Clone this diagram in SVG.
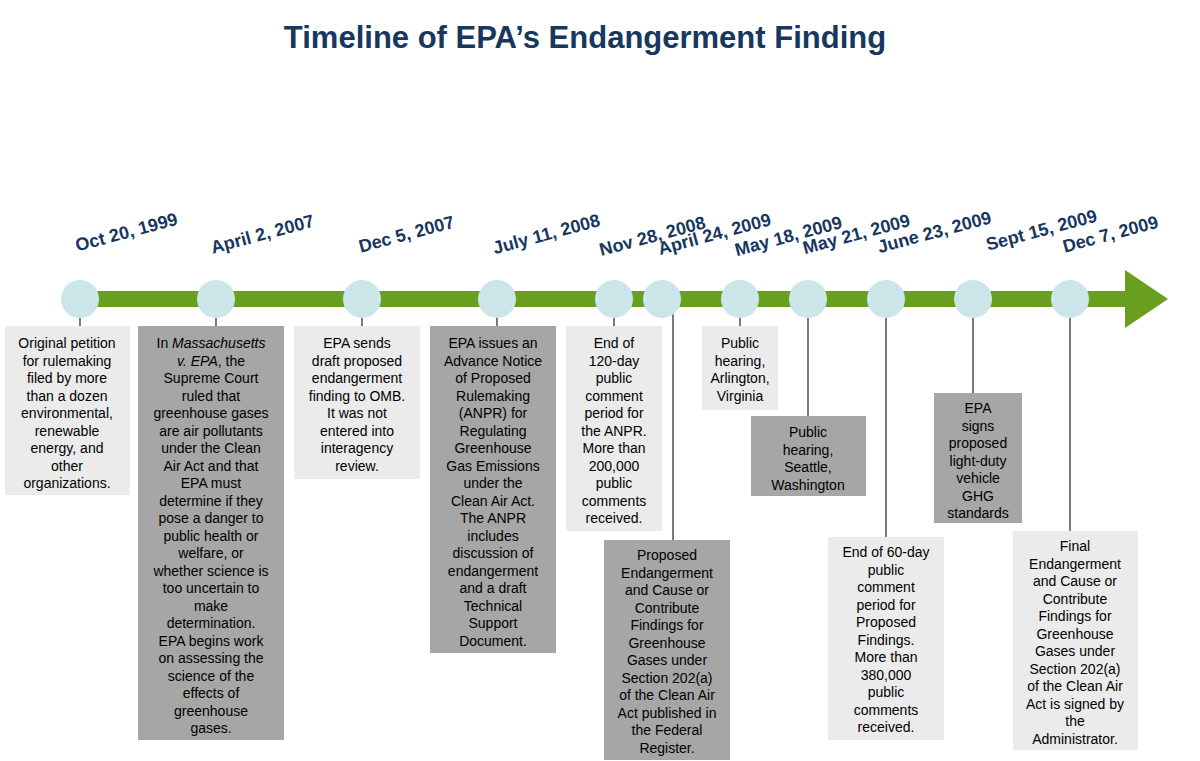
<svg xmlns="http://www.w3.org/2000/svg" width="1200" height="761" viewBox="0 0 1200 761">
<style>
.t{font-family:"Liberation Sans",Arial,sans-serif;font-size:14px;fill:#000;text-anchor:middle}
.d{font-family:"Liberation Sans",Arial,sans-serif;font-size:18px;font-weight:bold;fill:#17375E;text-anchor:middle}
.l{fill:#EBEBEB}.k{fill:#A6A6A6}
.c{fill:#CCE5E8}
.s{stroke:#222;stroke-width:1.2}
</style>
<rect width="1200" height="761" fill="#fff"/>
<text x="585" y="48" font-family="Liberation Sans,Arial,sans-serif" font-size="31" font-weight="bold" fill="#17375E" text-anchor="middle">Timeline of EPA’s Endangerment Finding</text>
<g id="connectors">
<path d="M80 291H1125V270L1168 299L1125 328V307H80Z" fill="#6A9E1F"/>
<line class="s" x1="80" y1="299" x2="80" y2="326"/>
<line class="s" x1="216" y1="299" x2="216" y2="326"/>
<line class="s" x1="362" y1="299" x2="362" y2="326"/>
<line class="s" x1="497" y1="299" x2="497" y2="326"/>
<line class="s" x1="614" y1="299" x2="614" y2="326"/>
<line class="s" x1="673" y1="299" x2="673" y2="540"/>
<line class="s" x1="740" y1="299" x2="740" y2="326"/>
<line class="s" x1="808" y1="299" x2="808" y2="416"/>
<line class="s" x1="886" y1="299" x2="886" y2="537"/>
<line class="s" x1="973" y1="299" x2="973" y2="393"/>
<line class="s" x1="1070" y1="299" x2="1070" y2="531"/>
</g>
<g id="n1"><circle class="c" cx="80" cy="299" r="19"/><text class="d" transform="translate(128,238) rotate(-15)">Oct 20, 1999</text>
<rect class="l" x="5" y="326" width="125" height="169"/>
<text class="t"><tspan x="67" y="348">Original petition</tspan><tspan x="67" dy="17.5">for rulemaking</tspan><tspan x="67" dy="17.5">filed by more</tspan><tspan x="67" dy="17.5">than a dozen</tspan><tspan x="67" dy="17.5">environmental,</tspan><tspan x="67" dy="17.5">renewable</tspan><tspan x="67" dy="17.5">energy, and</tspan><tspan x="67" dy="17.5">other</tspan><tspan x="67" dy="17.5">organizations.</tspan></text></g>
<g id="n2"><circle class="c" cx="216" cy="299" r="19"/><text class="d" transform="translate(264,240) rotate(-15)">April 2, 2007</text>
<rect class="k" x="138" y="326" width="146" height="414"/>
<text class="t"><tspan x="211" y="348">In <tspan font-style="italic">Massachusetts</tspan></tspan><tspan x="211" dy="17.5"><tspan font-style="italic">v. EPA</tspan>, the</tspan><tspan x="211" dy="17.5">Supreme Court</tspan><tspan x="211" dy="17.5">ruled that</tspan><tspan x="211" dy="17.5">greenhouse gases</tspan><tspan x="211" dy="17.5">are air pollutants</tspan><tspan x="211" dy="17.5">under the Clean</tspan><tspan x="211" dy="17.5">Air Act and that</tspan><tspan x="211" dy="17.5">EPA must</tspan><tspan x="211" dy="17.5">determine if they</tspan><tspan x="211" dy="17.5">pose a danger to</tspan><tspan x="211" dy="17.5">public health or</tspan><tspan x="211" dy="17.5">welfare, or</tspan><tspan x="211" dy="17.5">whether science is</tspan><tspan x="211" dy="17.5">too uncertain to</tspan><tspan x="211" dy="17.5">make</tspan><tspan x="211" dy="17.5">determination.</tspan><tspan x="211" dy="17.5">EPA begins work</tspan><tspan x="211" dy="17.5">on assessing the</tspan><tspan x="211" dy="17.5">science of the</tspan><tspan x="211" dy="17.5">effects of</tspan><tspan x="211" dy="17.5">greenhouse</tspan><tspan x="211" dy="17.5">gases.</tspan></text></g>
<g id="n3"><circle class="c" cx="362" cy="299" r="19"/><text class="d" transform="translate(408,240) rotate(-15)">Dec  5, 2007</text>
<rect class="l" x="294" y="326" width="126" height="153"/>
<text class="t"><tspan x="357" y="348">EPA sends</tspan><tspan x="357" dy="17.5">draft proposed</tspan><tspan x="357" dy="17.5">endangerment</tspan><tspan x="357" dy="17.5">finding to OMB.</tspan><tspan x="357" dy="17.5">It was not</tspan><tspan x="357" dy="17.5">entered into</tspan><tspan x="357" dy="17.5">interagency</tspan><tspan x="357" dy="17.5">review.</tspan></text></g>
<g id="n4"><circle class="c" cx="497" cy="299" r="19"/><text class="d" transform="translate(548,240) rotate(-15)">July 11, 2008</text>
<rect class="k" x="430" y="326" width="126" height="327"/>
<text class="t"><tspan x="493" y="348">EPA issues an</tspan><tspan x="493" dy="17.5">Advance Notice</tspan><tspan x="493" dy="17.5">of Proposed</tspan><tspan x="493" dy="17.5">Rulemaking</tspan><tspan x="493" dy="17.5">(ANPR) for</tspan><tspan x="493" dy="17.5">Regulating</tspan><tspan x="493" dy="17.5">Greenhouse</tspan><tspan x="493" dy="17.5">Gas Emissions</tspan><tspan x="493" dy="17.5">under the</tspan><tspan x="493" dy="17.5">Clean Air Act.</tspan><tspan x="493" dy="17.5">The ANPR</tspan><tspan x="493" dy="17.5">includes</tspan><tspan x="493" dy="17.5">discussion of</tspan><tspan x="493" dy="17.5">endangerment</tspan><tspan x="493" dy="17.5">and a draft</tspan><tspan x="493" dy="17.5">Technical</tspan><tspan x="493" dy="17.5">Support</tspan><tspan x="493" dy="17.5">Document.</tspan></text></g>
<g id="n5"><circle class="c" cx="614" cy="299" r="19"/><text class="d" transform="translate(654,242) rotate(-15)">Nov 28, 2008</text>
<rect class="l" x="566" y="326" width="96" height="205"/>
<text class="t"><tspan x="614" y="348">End of</tspan><tspan x="614" dy="17.5">120-day</tspan><tspan x="614" dy="17.5">public</tspan><tspan x="614" dy="17.5">comment</tspan><tspan x="614" dy="17.5">period for</tspan><tspan x="614" dy="17.5">the ANPR.</tspan><tspan x="614" dy="17.5">More than</tspan><tspan x="614" dy="17.5">200,000</tspan><tspan x="614" dy="17.5">public</tspan><tspan x="614" dy="17.5">comments</tspan><tspan x="614" dy="17.5">received.</tspan></text></g>
<g id="n6"><circle class="c" cx="662" cy="299" r="19"/><text class="d" transform="translate(716,240) rotate(-15)">April 24, 2009</text>
<rect class="k" x="604" y="540" width="126" height="220"/>
<text class="t"><tspan x="667" y="560">Proposed</tspan><tspan x="667" dy="17.5">Endangerment</tspan><tspan x="667" dy="17.5">and Cause or</tspan><tspan x="667" dy="17.5">Contribute</tspan><tspan x="667" dy="17.5">Findings for</tspan><tspan x="667" dy="17.5">Greenhouse</tspan><tspan x="667" dy="17.5">Gases under</tspan><tspan x="667" dy="17.5">Section 202(a)</tspan><tspan x="667" dy="17.5">of the Clean Air</tspan><tspan x="667" dy="17.5">Act published in</tspan><tspan x="667" dy="17.5">the Federal</tspan><tspan x="667" dy="17.5">Register.</tspan></text></g>
<g id="n7"><circle class="c" cx="740" cy="299" r="19"/><text class="d" transform="translate(790,242) rotate(-15)">May 18, 2009</text>
<rect class="l" x="702" y="326" width="76" height="84"/>
<text class="t"><tspan x="740" y="348">Public</tspan><tspan x="740" dy="17.5">hearing,</tspan><tspan x="740" dy="17.5">Arlington,</tspan><tspan x="740" dy="17.5">Virginia</tspan></text></g>
<g id="n8"><circle class="c" cx="808" cy="299" r="19"/><text class="d" transform="translate(858,240) rotate(-15)">May 21, 2009</text>
<rect class="k" x="751" y="416" width="115" height="80"/>
<text class="t"><tspan x="808" y="437">Public</tspan><tspan x="808" dy="17.5">hearing,</tspan><tspan x="808" dy="17.5">Seattle,</tspan><tspan x="808" dy="17.5">Washington</tspan></text></g>
<g id="n9"><circle class="c" cx="886" cy="299" r="19"/><text class="d" transform="translate(936,238) rotate(-15)">June 23, 2009</text>
<rect class="l" x="828" y="537" width="116" height="203"/>
<text class="t"><tspan x="886" y="557">End of 60-day</tspan><tspan x="886" dy="17.5">public</tspan><tspan x="886" dy="17.5">comment</tspan><tspan x="886" dy="17.5">period for</tspan><tspan x="886" dy="17.5">Proposed</tspan><tspan x="886" dy="17.5">Findings.</tspan><tspan x="886" dy="17.5">More than</tspan><tspan x="886" dy="17.5">380,000</tspan><tspan x="886" dy="17.5">public</tspan><tspan x="886" dy="17.5">comments</tspan><tspan x="886" dy="17.5">received.</tspan></text></g>
<g id="n10"><circle class="c" cx="973" cy="299" r="19"/><text class="d" transform="translate(1043,236) rotate(-15)">Sept 15, 2009</text>
<rect class="k" x="934" y="393" width="88" height="130"/>
<text class="t"><tspan x="978" y="413">EPA</tspan><tspan x="978" dy="17.5">signs</tspan><tspan x="978" dy="17.5">proposed</tspan><tspan x="978" dy="17.5">light-duty</tspan><tspan x="978" dy="17.5">vehicle</tspan><tspan x="978" dy="17.5">GHG</tspan><tspan x="978" dy="17.5">standards</tspan></text></g>
<g id="n11"><circle class="c" cx="1070" cy="299" r="19"/><text class="d" transform="translate(1112,240) rotate(-15)">Dec 7, 2009</text>
<rect class="l" x="1013" y="531" width="125" height="219"/>
<text class="t"><tspan x="1075" y="551">Final</tspan><tspan x="1075" dy="17.5">Endangerment</tspan><tspan x="1075" dy="17.5">and Cause or</tspan><tspan x="1075" dy="17.5">Contribute</tspan><tspan x="1075" dy="17.5">Findings for</tspan><tspan x="1075" dy="17.5">Greenhouse</tspan><tspan x="1075" dy="17.5">Gases under</tspan><tspan x="1075" dy="17.5">Section 202(a)</tspan><tspan x="1075" dy="17.5">of the Clean Air</tspan><tspan x="1075" dy="17.5">Act is signed by</tspan><tspan x="1075" dy="17.5">the</tspan><tspan x="1075" dy="17.5">Administrator.</tspan></text></g>
</svg>
